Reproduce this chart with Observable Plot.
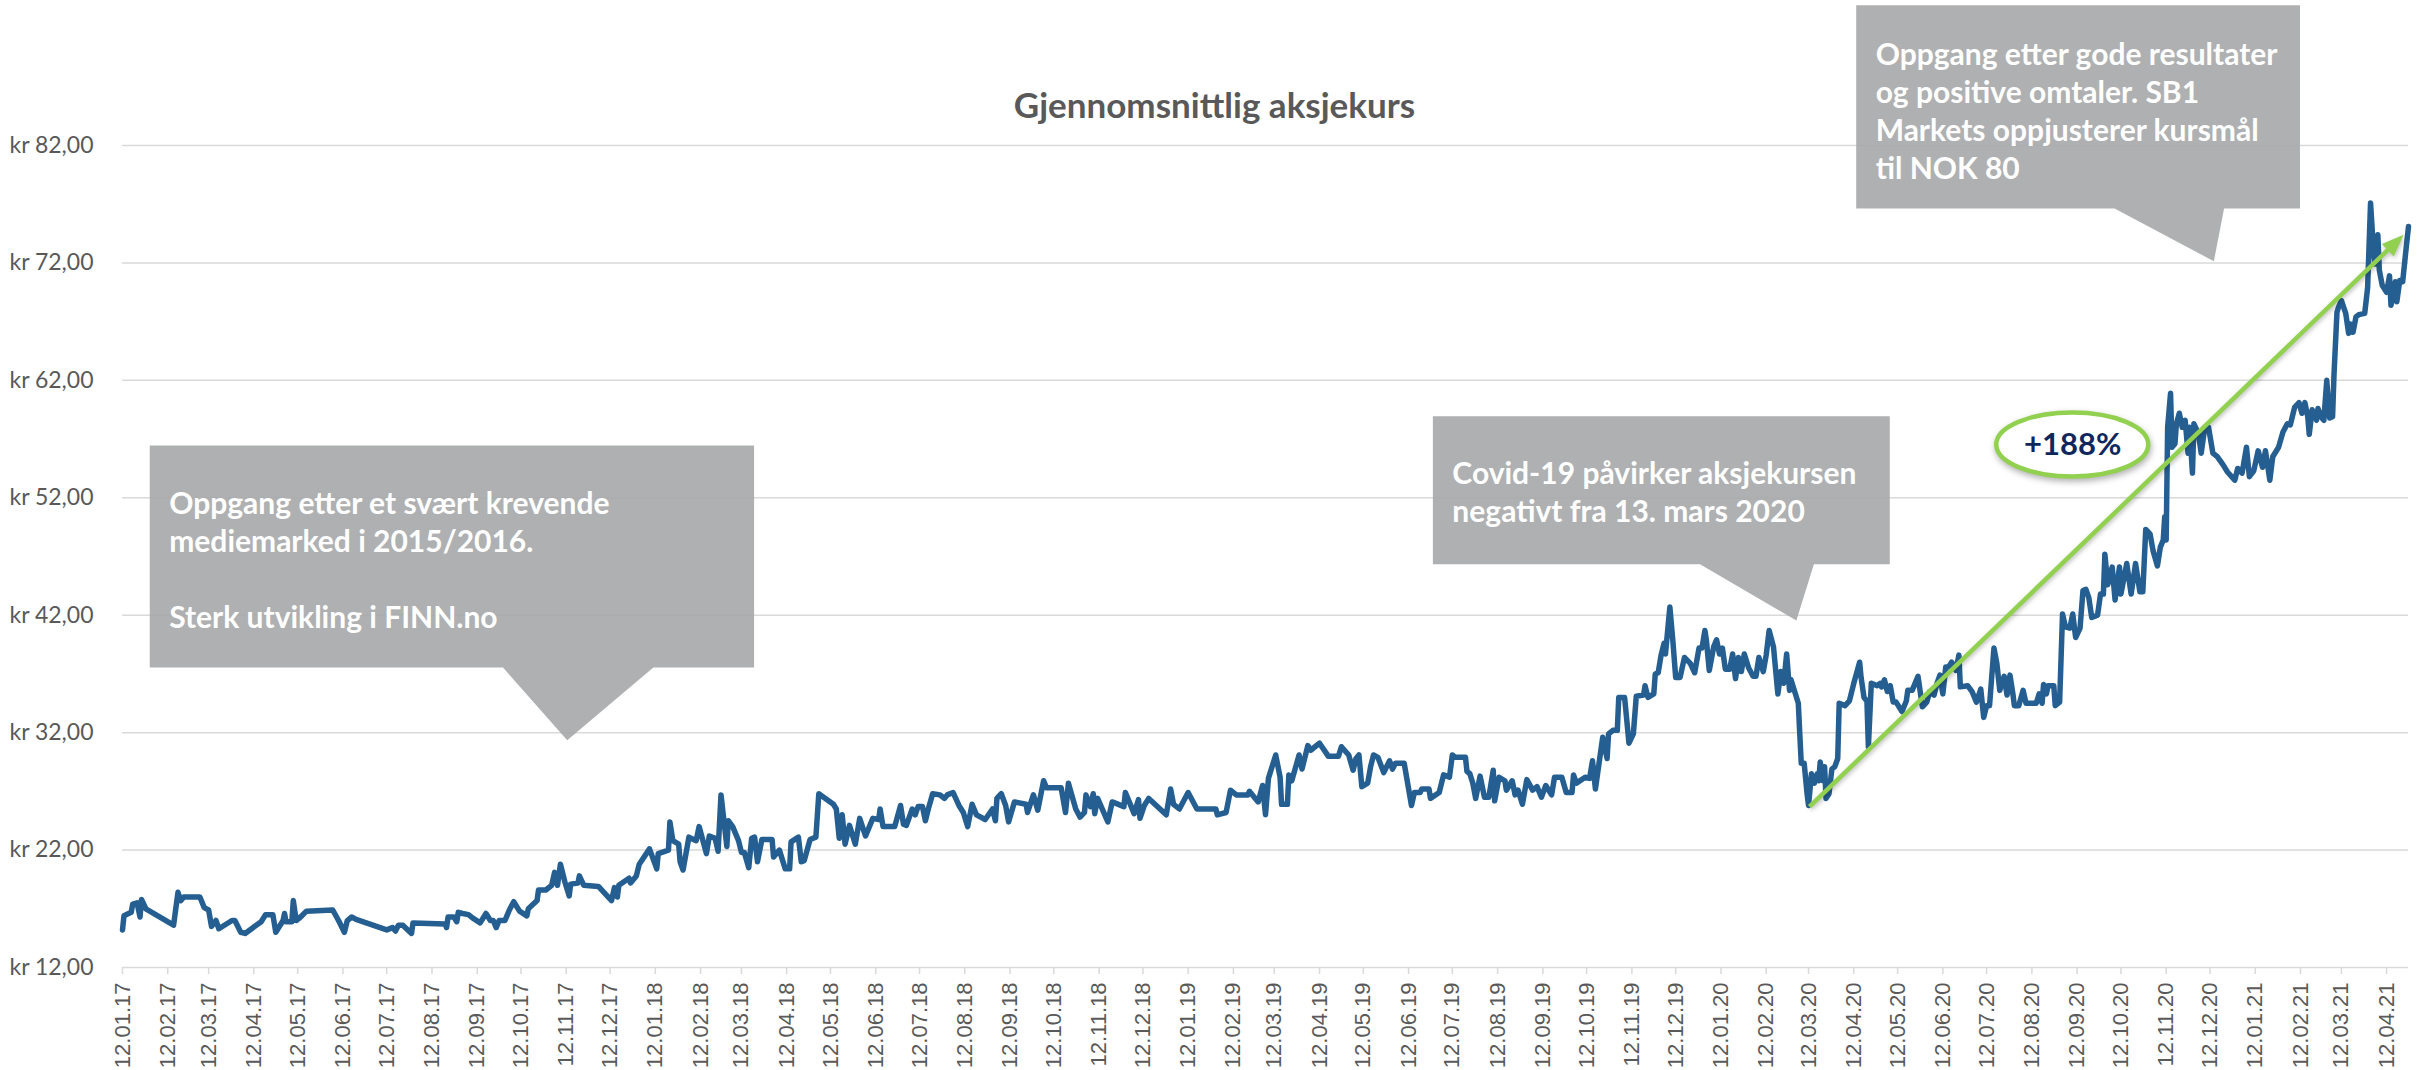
<!DOCTYPE html>
<html>
<head>
<meta charset="utf-8">
<script src="https://cdn.jsdelivr.net/npm/d3@7"></script>
<script src="https://cdn.jsdelivr.net/npm/@observablehq/plot@0.6"></script>
<style>
  html, body { margin: 0; padding: 0; background: #fff; overflow: hidden; }
  #chart svg { display: block; }
  g[aria-label="x-axis tick label"] text { font-family: "Liberation Sans", Arial, sans-serif; }
</style>
</head>
<body>
<div id="chart"></div>
<script>
// ---------------- DATA ----------------
const chartTitle = "Gjennomsnittlig aksjekurs";

const dates2017 = ["2017-01-12","2017-01-13","2017-01-18","2017-01-19","2017-01-22","2017-01-24","2017-01-25","2017-01-28","2017-02-16","2017-02-19","2017-02-21","2017-02-23","2017-03-06","2017-03-09","2017-03-12","2017-03-14","2017-03-17","2017-03-19","2017-03-28","2017-03-30","2017-04-03","2017-04-06","2017-04-17","2017-04-20","2017-04-25","2017-04-27","2017-05-02","2017-05-03","2017-05-04","2017-05-08","2017-05-09","2017-05-11","2017-05-14","2017-05-18","2017-06-05","2017-06-09","2017-06-13","2017-06-15","2017-06-18","2017-06-21","2017-07-12","2017-07-16","2017-07-18","2017-07-20","2017-07-23","2017-07-29","2017-07-30","2017-08-21","2017-08-22","2017-08-23","2017-08-27","2017-08-29","2017-08-30","2017-09-02","2017-09-06","2017-09-09","2017-09-14","2017-09-18","2017-09-21","2017-09-23","2017-09-25","2017-09-27","2017-10-01","2017-10-04","2017-10-07","2017-10-11","2017-10-16","2017-10-17","2017-10-23","2017-10-24","2017-10-29","2017-11-02","2017-11-04","2017-11-06","2017-11-08","2017-11-11","2017-11-14","2017-11-15","2017-11-20","2017-11-21","2017-11-24","2017-12-04","2017-12-13","2017-12-15","2017-12-17","2017-12-18","2017-12-25","2017-12-26","2017-12-30"];
const prices2017 = [15.2,16.4,16.7,17.4,17.5,16.3,17.8,17.0,15.6,18.4,17.7,18.0,18.0,17.1,16.9,15.5,16.0,15.3,16.0,16.0,15.0,14.9,15.9,16.5,16.5,15.0,16.0,16.6,15.9,15.9,17.7,16.0,16.3,16.8,16.9,16.0,15.0,16.0,16.3,16.1,15.2,15.4,15.1,15.6,15.6,14.9,15.8,15.7,15.4,16.3,16.3,15.9,16.7,16.6,16.5,16.2,15.8,16.6,16.0,16.0,15.4,16.0,16.0,16.9,17.6,16.8,16.4,17.0,17.7,18.6,18.6,19.0,20.1,19.0,20.8,19.3,18.1,19.1,19.2,19.8,19.0,18.9,17.7,18.8,18.0,19.0,19.6,19.2,19.8];

const dates2018 = ["2018-01-01","2018-01-08","2018-01-13","2018-01-14","2018-01-21","2018-01-22","2018-01-24","2018-01-28","2018-01-29","2018-01-31","2018-02-04","2018-02-09","2018-02-11","2018-02-16","2018-02-18","2018-02-22","2018-02-24","2018-02-26","2018-02-28","2018-03-02","2018-03-03","2018-03-06","2018-03-10","2018-03-12","2018-03-14","2018-03-17","2018-03-19","2018-03-21","2018-03-23","2018-03-26","2018-04-02","2018-04-03","2018-04-07","2018-04-11","2018-04-14","2018-04-15","2018-04-20","2018-04-22","2018-04-24","2018-04-28","2018-05-02","2018-05-04","2018-05-14","2018-05-16","2018-05-18","2018-05-20","2018-05-22","2018-05-25","2018-05-29","2018-06-01","2018-06-05","2018-06-10","2018-06-14","2018-06-15","2018-06-17","2018-06-25","2018-06-29","2018-07-01","2018-07-03","2018-07-07","2018-07-09","2018-07-11","2018-07-14","2018-07-16","2018-07-18","2018-07-21","2018-07-26","2018-07-29","2018-07-31","2018-08-04","2018-08-08","2018-08-11","2018-08-14","2018-08-17","2018-08-20","2018-08-26","2018-08-31","2018-09-02","2018-09-03","2018-09-06","2018-09-09","2018-09-11","2018-09-15","2018-09-23","2018-09-24","2018-09-28","2018-10-01","2018-10-05","2018-10-07","2018-10-17","2018-10-20","2018-10-22","2018-10-27","2018-10-30","2018-11-02","2018-11-03","2018-11-06","2018-11-08","2018-11-09","2018-11-11","2018-11-18","2018-11-21","2018-11-29","2018-11-30","2018-12-06","2018-12-09","2018-12-10","2018-12-13","2018-12-16","2018-12-28","2018-12-31"];
const prices2018 = [20.8,22.1,20.4,21.7,22.0,24.4,22.8,22.5,21.0,20.3,23.1,22.8,24.0,21.7,23.2,23.0,21.9,26.7,24.5,22.3,24.5,24.0,22.8,21.8,21.8,20.5,23.0,23.1,21.0,22.9,22.9,21.4,22.0,20.4,20.4,22.7,23.1,21.0,21.1,22.9,23.1,26.8,25.9,25.5,23.0,25.0,22.5,24.1,22.5,24.7,23.2,24.7,24.6,25.5,24.0,24.0,25.8,24.2,24.1,25.5,25.0,25.7,25.7,24.5,25.5,26.8,26.7,26.4,26.7,26.9,25.8,25.2,24.0,25.9,25.0,24.6,25.5,24.5,26.4,26.8,25.8,24.4,26.1,25.9,25.2,26.7,25.4,27.9,27.3,27.3,25.2,27.7,25.5,24.8,25.2,26.7,25.7,26.8,25.1,26.4,24.4,26.1,25.7,26.9,25.1,26.3,24.7,25.8,26.4,25.0,27.2];

const dates2019 = ["2019-01-02","2019-01-06","2019-01-12","2019-01-18","2019-01-31","2019-02-01","2019-02-07","2019-02-10","2019-02-14","2019-02-22","2019-02-23","2019-02-27","2019-03-01","2019-03-04","2019-03-06","2019-03-08","2019-03-13","2019-03-16","2019-03-17","2019-03-21","2019-03-22","2019-03-24","2019-03-29","2019-03-31","2019-04-04","2019-04-06","2019-04-12","2019-04-18","2019-04-25","2019-04-27","2019-05-02","2019-05-05","2019-05-07","2019-05-09","2019-05-11","2019-05-15","2019-05-17","2019-05-19","2019-05-22","2019-05-26","2019-05-30","2019-06-01","2019-06-03","2019-06-09","2019-06-14","2019-06-16","2019-06-20","2019-06-21","2019-06-26","2019-06-27","2019-07-03","2019-07-06","2019-07-10","2019-07-12","2019-07-14","2019-07-21","2019-07-22","2019-07-24","2019-07-26","2019-07-28","2019-07-31","2019-08-03","2019-08-06","2019-08-09","2019-08-10","2019-08-13","2019-08-17","2019-08-18","2019-08-22","2019-08-24","2019-08-26","2019-08-29","2019-09-01","2019-09-05","2019-09-08","2019-09-11","2019-09-14","2019-09-18","2019-09-20","2019-09-25","2019-09-28","2019-10-02","2019-10-03","2019-10-05","2019-10-11","2019-10-14","2019-10-16","2019-10-18","2019-10-23","2019-10-26","2019-10-27","2019-10-30","2019-11-02","2019-11-03","2019-11-07","2019-11-10","2019-11-13","2019-11-15","2019-11-20","2019-11-21","2019-11-23","2019-11-27","2019-11-28","2019-11-30","2019-12-02","2019-12-04","2019-12-05","2019-12-08","2019-12-10","2019-12-12","2019-12-15","2019-12-18","2019-12-22","2019-12-25","2019-12-28","2019-12-30"];
const prices2019 = [25.9,25.5,26.9,25.5,25.5,25.0,25.2,27.1,26.7,26.7,27.0,26.4,26.1,27.5,25.0,28.1,30.1,28.2,25.9,25.9,28.4,27.9,30.1,28.9,30.9,30.5,31.1,30.0,30.0,30.8,30.1,28.8,29.8,30.1,27.4,27.7,29.1,30.1,29.9,28.6,29.6,28.9,29.4,29.4,25.8,26.9,26.9,27.2,27.2,26.4,26.9,28.4,28.2,30.1,29.9,29.9,28.7,28.5,27.7,26.4,28.3,26.5,26.5,28.8,26.2,28.2,27.9,27.1,27.9,26.7,27.1,25.9,28.0,27.1,27.4,26.5,27.5,26.7,28.2,28.2,26.9,26.9,28.4,27.7,28.2,28.1,29.6,27.2,31.6,29.8,31.9,32.2,32.2,35.0,35.0,31.1,31.9,35.1,35.2,36.0,35.0,35.3,37.0,37.1,38.6,39.6,38.7,42.7,39.9,36.7,36.7,38.4,37.9,37.1,39.2,39.2];

const dates2020 = ["2020-01-01","2020-01-02","2020-01-04","2020-01-07","2020-01-09","2020-01-11","2020-01-13","2020-01-15","2020-01-18","2020-01-20","2020-01-22","2020-01-24","2020-01-26","2020-01-28","2020-01-31","2020-02-03","2020-02-05","2020-02-07","2020-02-10","2020-02-12","2020-02-14","2020-02-17","2020-02-20","2020-02-22","2020-02-24","2020-02-26","2020-02-28","2020-02-29","2020-03-05","2020-03-06","2020-03-07","2020-03-09","2020-03-11","2020-03-12","2020-03-14","2020-03-16","2020-03-18","2020-03-19","2020-03-20","2020-03-22","2020-03-23","2020-03-24","2020-03-26","2020-03-28","2020-03-30","2020-04-01","2020-04-02","2020-04-06","2020-04-09","2020-04-12","2020-04-16","2020-04-17","2020-04-19","2020-04-21","2020-04-22","2020-04-24","2020-04-28","2020-04-30","2020-05-01","2020-05-03","2020-05-05","2020-05-07","2020-05-09","2020-05-11","2020-05-15","2020-05-18","2020-05-19","2020-05-22","2020-05-24","2020-05-26","2020-05-29","2020-06-01","2020-06-03","2020-06-06","2020-06-08","2020-06-10","2020-06-12","2020-06-14","2020-06-16","2020-06-18","2020-06-21","2020-06-23","2020-06-24","2020-06-29","2020-07-02","2020-07-05","2020-07-08","2020-07-10","2020-07-12","2020-07-14","2020-07-17","2020-07-19","2020-07-21","2020-07-24","2020-07-26","2020-07-28","2020-07-30","2020-07-31","2020-08-03","2020-08-06","2020-08-08","2020-08-15","2020-08-17","2020-08-19","2020-08-20","2020-08-22","2020-08-23","2020-08-27","2020-08-28","2020-08-31","2020-09-02","2020-09-04","2020-09-07","2020-09-09","2020-09-11","2020-09-14","2020-09-16","2020-09-18","2020-09-20","2020-09-22","2020-09-26","2020-09-28","2020-09-30","2020-10-01","2020-10-03","2020-10-06","2020-10-08","2020-10-11","2020-10-12","2020-10-16","2020-10-19","2020-10-22","2020-10-25","2020-10-27","2020-10-29","2020-11-01","2020-11-03","2020-11-06","2020-11-08","2020-11-10","2020-11-11","2020-11-12","2020-11-13","2020-11-15","2020-11-16","2020-11-18","2020-11-19","2020-11-21","2020-11-23","2020-11-25","2020-11-27","2020-11-28","2020-11-30","2020-12-01","2020-12-04","2020-12-06","2020-12-08","2020-12-11","2020-12-14","2020-12-17","2020-12-21","2020-12-24","2020-12-29","2020-12-31"];
const prices2020 = [40.7,39.9,37.3,39.3,39.9,38.7,39.2,37.4,37.4,38.7,36.6,38.4,37.2,38.7,37.5,36.8,36.8,38.4,37.2,38.6,40.7,39.3,35.3,37.2,36.2,38.7,35.6,36.5,34.5,31.9,29.4,29.4,26.8,25.8,28.5,27.7,28.5,27.9,29.5,27.9,29.1,26.4,26.8,28.9,29.1,29.8,34.5,34.3,34.7,36.2,38.0,36.7,35.0,34.7,30.8,36.2,36.0,36.2,35.9,36.5,35.5,36.0,34.6,34.6,33.8,34.7,35.6,35.6,36.2,36.8,34.2,34.6,35.5,35.2,36.2,36.9,35.3,37.6,37.6,38.0,37.3,38.6,35.9,36.0,35.5,34.6,35.7,33.3,34.3,34.3,39.2,37.9,35.6,36.8,35.2,36.9,35.3,34.3,34.3,35.6,34.5,34.5,35.3,34.5,36.1,35.3,36.0,36.0,34.3,34.6,42.1,41.0,40.9,42.1,40.1,40.9,44.1,44.2,43.5,41.8,42.0,43.8,43.8,47.2,44.6,46.1,43.3,46.1,43.8,46.4,43.8,46.4,44.0,44.0,49.3,48.9,47.5,46.2,47.8,48.4,50.4,48.4,58.0,60.9,56.3,56.6,58.3,59.2,58.0,58.6,55.8,58.0,54.1,58.3,57.5,55.8,57.6,58.0,55.8,55.5,54.8,54.2,53.5,54.5];

const dates2021 = ["2021-01-03","2021-01-06","2021-01-08","2021-01-11","2021-01-14","2021-01-17","2021-01-19","2021-01-22","2021-01-24","2021-01-28","2021-01-31","2021-02-03","2021-02-05","2021-02-08","2021-02-11","2021-02-13","2021-02-15","2021-02-17","2021-02-18","2021-02-20","2021-02-23","2021-02-24","2021-02-26","2021-02-28","2021-03-02","2021-03-04","2021-03-06","2021-03-07","2021-03-09","2021-03-10","2021-03-12","2021-03-15","2021-03-17","2021-03-18","2021-03-20","2021-03-22","2021-03-24","2021-03-28","2021-03-30","2021-04-01","2021-04-03","2021-04-04","2021-04-06","2021-04-07","2021-04-09","2021-04-12","2021-04-14","2021-04-15","2021-04-18","2021-04-19","2021-04-21","2021-04-23","2021-04-25","2021-04-27"];
const prices2021 = [54.1,56.3,53.8,54.3,56.0,54.6,56.0,53.5,55.5,56.3,57.6,58.3,58.2,59.7,60.1,59.2,60.1,58.9,57.4,59.5,58.6,59.6,58.9,58.6,62.0,58.8,58.9,62.6,67.8,68.2,68.8,67.7,66.0,66.8,66.1,67.4,67.6,67.7,69.9,77.1,73.1,71.9,74.4,71.4,70.1,69.5,70.9,68.4,70.4,68.7,70.5,70.4,72.8,75.1];

const yTicks = [12, 22, 32, 42, 52, 62, 72, 82];
const yTickLabels = ["kr 12,00", "kr 22,00", "kr 32,00", "kr 42,00", "kr 52,00", "kr 62,00", "kr 72,00", "kr 82,00"];

const xTickLabels = ["12.01.17","12.02.17","12.03.17","12.04.17","12.05.17","12.06.17","12.07.17","12.08.17","12.09.17","12.10.17","12.11.17","12.12.17",
  "12.01.18","12.02.18","12.03.18","12.04.18","12.05.18","12.06.18","12.07.18","12.08.18","12.09.18","12.10.18","12.11.18","12.12.18",
  "12.01.19","12.02.19","12.03.19","12.04.19","12.05.19","12.06.19","12.07.19","12.08.19","12.09.19","12.10.19","12.11.19","12.12.19",
  "12.01.20","12.02.20","12.03.20","12.04.20","12.05.20","12.06.20","12.07.20","12.08.20","12.09.20","12.10.20","12.11.20","12.12.20",
  "12.01.21","12.02.21","12.03.21","12.04.21"];

const xDomain = ["2017-01-12", "2021-04-27"];

// callouts (annotation boxes, anchored in data units)
const calloutTexts = [
  "Oppgang etter et svært krevende\nmediemarked i 2015/2016.\n\nSterk utvikling i FINN.no",
  "Covid-19 påvirker aksjekursen\nnegativt fra 13. mars 2020",
  "Oppgang etter gode resultater\nog positive omtaler. SB1\nMarkets oppjusterer kursmål\ntil NOK 80"
];
const calloutLeft = ["2017-01-31", "2019-06-29", "2020-04-14"];
const calloutRight = ["2018-03-21", "2020-05-07", "2021-02-12"];
const calloutTop = [56.4, 58.9, 93.9];
const calloutBottom = [37.5, 46.3, 76.6];
const pointerFrom = ["2017-09-30", "2019-12-29", "2020-10-08"];
const pointerTo = ["2018-01-11", "2020-03-16", "2020-12-22"];
const pointerTipDate = ["2017-11-13", "2020-03-04", "2020-12-15"];
const pointerTipValue = [31.3, 41.5, 72.1];
const textDate = ["2017-02-13", "2019-07-12", "2020-04-27"];
const textValue = [52.95, 55.45, 91.15];

// growth arrow and badge
const arrowStart = ["2020-03-13", 25.65];
const arrowEnd = ["2021-04-24", 74.35];
const badgeText = "+188%";
const badgeCenter = ["2020-09-09", 56.5];

// ---------------- BUILD ----------------
const parseDay = d3.utcParse("%Y-%m-%d");
const parseTick = d3.utcParse("%d.%m.%y");

const series = [
  [dates2017, prices2017], [dates2018, prices2018], [dates2019, prices2019],
  [dates2020, prices2020], [dates2021, prices2021]
].flatMap(([ds, ps]) => ds.map((d, i) => ({date: parseDay(d), price: ps[i]})));

const xTicks = xTickLabels.map(parseTick);
const xLabelByTime = new Map(xTicks.map((d, i) => [+d, xTickLabels[i]]));
const yLabelByValue = new Map(yTicks.map((v, i) => [v, yTickLabels[i]]));

const callouts = calloutTexts.map((text, i) => ({
  text,
  tx: parseDay(textDate[i]), ty: textValue[i]
}));

const BOX_FILL = "#A6A7A9";
const GREEN = "#92D050";

function calloutShapes(index, scales) {
  const g = d3.create("svg:g").attr("aria-label", "callouts");
  for (let i = 0; i < calloutTexts.length; i++) {
    const L = scales.x(parseDay(calloutLeft[i])), R = scales.x(parseDay(calloutRight[i]));
    const T = scales.y(calloutTop[i]), B = scales.y(calloutBottom[i]);
    const p0 = scales.x(parseDay(pointerFrom[i])), p1 = scales.x(parseDay(pointerTo[i]));
    const tx = scales.x(parseDay(pointerTipDate[i])), ty = scales.y(pointerTipValue[i]);
    g.append("path")
      .attr("d", `M${L},${T}H${R}V${B}H${p1}L${tx},${ty}L${p0},${B}H${L}Z`)
      .attr("fill", BOX_FILL)
      .attr("fill-opacity", 0.9);
  }
  return g.node();
}

function growthArrow(index, scales) {
  const x1 = scales.x(parseDay(arrowStart[0])), y1 = scales.y(arrowStart[1]);
  const x2 = scales.x(parseDay(arrowEnd[0])), y2 = scales.y(arrowEnd[1]);
  const len = Math.hypot(x2 - x1, y2 - y1);
  const ux = (x2 - x1) / len, uy = (y2 - y1) / len;
  const headL = 22, headW = 17;
  const bx = x2 - ux * headL, by = y2 - uy * headL;
  const g = d3.create("svg:g").attr("aria-label", "arrow")
    .style("filter", "drop-shadow(1px 2px 2px rgba(0,0,0,0.25))");
  g.append("line").attr("x1", x1).attr("y1", y1).attr("x2", bx + ux * 2).attr("y2", by + uy * 2)
    .attr("stroke", GREEN).attr("stroke-width", 4.5);
  g.append("path")
    .attr("d", `M${x2},${y2}L${bx - uy * headW / 2},${by + ux * headW / 2}L${bx + uy * headW / 2},${by - ux * headW / 2}Z`)
    .attr("fill", GREEN);
  return g.node();
}

function badgeEllipse(index, scales) {
  const cx = scales.x(parseDay(badgeCenter[0])), cy = scales.y(badgeCenter[1]);
  const g = d3.create("svg:g").attr("aria-label", "badge")
    .style("filter", "drop-shadow(1px 3px 3px rgba(0,0,0,0.3))");
  g.append("ellipse").attr("cx", cx).attr("cy", cy).attr("rx", 76).attr("ry", 32)
    .attr("fill", "#fff").attr("stroke", GREEN).attr("stroke-width", 4.5);
  return g.node();
}

const chart = Plot.plot({
  width: 2420,
  height: 1070,
  marginTop: 145,
  marginBottom: 103,
  marginLeft: 122,
  marginRight: 12,
  style: {background: "#fff", fontFamily: "Lato, sans-serif", overflow: "visible"},
  x: {type: "utc", domain: xDomain.map(parseDay)},
  y: {domain: [12, 82]},
  marks: [
    Plot.ruleY(yTicks, {stroke: "#D9D9D9", strokeWidth: 1.5}),
    Plot.axisY({
      ticks: yTicks, tickSize: 0, tickPadding: 29, label: null,
      tickFormat: v => yLabelByValue.get(v),
      fontSize: 23, fill: "#595959", fontFamily: "Lato, sans-serif"
    }),
    Plot.axisX({
      ticks: xTicks, tickSize: 7, tickPadding: 8, tickRotate: -90, label: null,
      tickFormat: d => xLabelByTime.get(+d),
      stroke: "#D9D9D9", strokeWidth: 1.5, fill: "#595959",
      fontSize: 22, fontFamily: "Liberation Sans, Arial, sans-serif"
    }),
    Plot.line(series, {
      x: "date", y: "price", stroke: "#255E91", strokeWidth: 5.5,
      strokeLinejoin: "round", strokeLinecap: "round"
    }),
    calloutShapes,
    Plot.text(callouts, {
      x: "tx", y: "ty", text: "text", textAnchor: "start", lineAnchor: "top",
      fontSize: 30, lineHeight: 38 / 30, fontWeight: 700, fill: "#fff",
      fontFamily: "Lato, sans-serif"
    }),
    growthArrow,
    badgeEllipse,
    Plot.text([badgeText], {
      x: () => parseDay(badgeCenter[0]), y: () => badgeCenter[1], text: d => d,
      fontSize: 31, fontWeight: 700, fill: "#10275E", fontFamily: "Lato, sans-serif"
    }),
    Plot.text([chartTitle], {
      frameAnchor: "top", dx: -51, dy: -52, text: d => d,
      fontSize: 35, fontWeight: 700, fill: "#595959", fontFamily: "Lato, sans-serif"
    })
  ]
});

document.getElementById("chart").appendChild(chart);
</script>
</body>
</html>
